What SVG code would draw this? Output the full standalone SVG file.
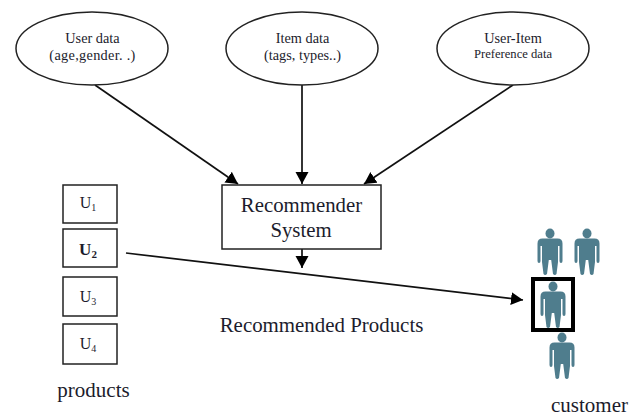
<svg xmlns="http://www.w3.org/2000/svg" width="638" height="416" viewBox="0 0 638 416">
<style>
text{font-family:"Liberation Serif","Times New Roman",serif;fill:#1c1c2c;text-anchor:middle}
.n{fill:#fff;stroke:#222;stroke-width:1.5}
.c{stroke:#111;stroke-width:1.7;fill:none;marker-end:url(#a)}
.p{fill:#4f7d8d}
</style>
<defs>
<marker id="a" markerUnits="userSpaceOnUse" markerWidth="14" markerHeight="14" refX="12" refY="6.5" orient="auto"><path d="M0 0L12 6.5L0 13z" fill="#000"/></marker>
<symbol id="person" overflow="visible"><g class="p">
<ellipse cx="0" cy="5.500" rx="4.500" ry="5"/>
<path d="M-7.500 10.500H7.500Q12.500 10.500 12.500 15.500V33Q12.500 35 11 35Q9.500 35 9.500 33V18H8V34L6.500 46Q5 48 3 46L1.200 32H-1.200L-3 46Q-5 48-6.500 46L-8 34V18H-9.500V33Q-9.500 35-11 35Q-12.500 35-12.500 33V15.500Q-12.500 10.500-7.500 10.500z"/>
</g></symbol>
</defs>
<rect width="638" height="416" fill="#fff"/>
<g id="connectors">
<path class="c" d="M95 85L238 184"/>
<path class="c" d="M302 85V184"/>
<path class="c" d="M513 85L364 184"/>
<path class="c" d="M302 249V268"/>
<path class="c" d="M126 253L523 300"/>
</g>
<g id="user-data"><ellipse class="n" cx="92" cy="48.500" rx="76" ry="36.500"/><text x="92.500" y="43" font-size="14.300">User data</text><text x="92.500" y="60" font-size="14.300" letter-spacing=".3">(age,gender. .)</text></g>
<g id="item-data"><ellipse class="n" cx="302" cy="48.500" rx="76" ry="36.500"/><text x="302.500" y="43" font-size="14.300">Item data</text><text x="302.500" y="60" font-size="14.300">(tags, types..)</text></g>
<g id="user-item"><ellipse class="n" cx="513" cy="48.500" rx="76" ry="36.500"/><text x="513" y="43" font-size="14.300">User-Item</text><text x="513" y="58" font-size="12.600">Preference data</text></g>
<g id="recommender"><rect class="n" x="222" y="185" width="159" height="64"/><text x="301.500" y="212" font-size="20.800">Recommender</text><text x="301" y="237" font-size="20.800">System</text></g>
<g id="u1"><rect class="n" x="63" y="185" width="54" height="38"/><text x="88" y="208" font-size="16">U<tspan font-size="10" dy="3">1</tspan></text></g>
<g id="u2"><rect class="n" x="63" y="229" width="54" height="38"/><text x="88" y="255" font-size="17" font-weight="bold">U<tspan font-size="11" dy="3">2</tspan></text></g>
<g id="u3"><rect class="n" x="63" y="277" width="54" height="39"/><text x="88" y="302" font-size="16">U<tspan font-size="10" dy="3">3</tspan></text></g>
<g id="u4"><rect class="n" x="63" y="324" width="54" height="40"/><text x="88" y="349" font-size="16">U<tspan font-size="10" dy="3">4</tspan></text></g>
<g id="recommended-products"><text x="321.500" y="332" font-size="20.900">Recommended Products</text></g>
<g id="products"><text x="93.500" y="397" font-size="21">products</text></g>
<g id="customers">
<use href="#person" x="550" y="228"/>
<use href="#person" x="587" y="228"/>
<use href="#person" x="553" y="281"/>
<use href="#person" x="562" y="332"/>
<rect x="533" y="279" width="40" height="51" fill="none" stroke="#000" stroke-width="4"/>
<text x="589.500" y="412" font-size="21">customer</text>
</g>
</svg>
